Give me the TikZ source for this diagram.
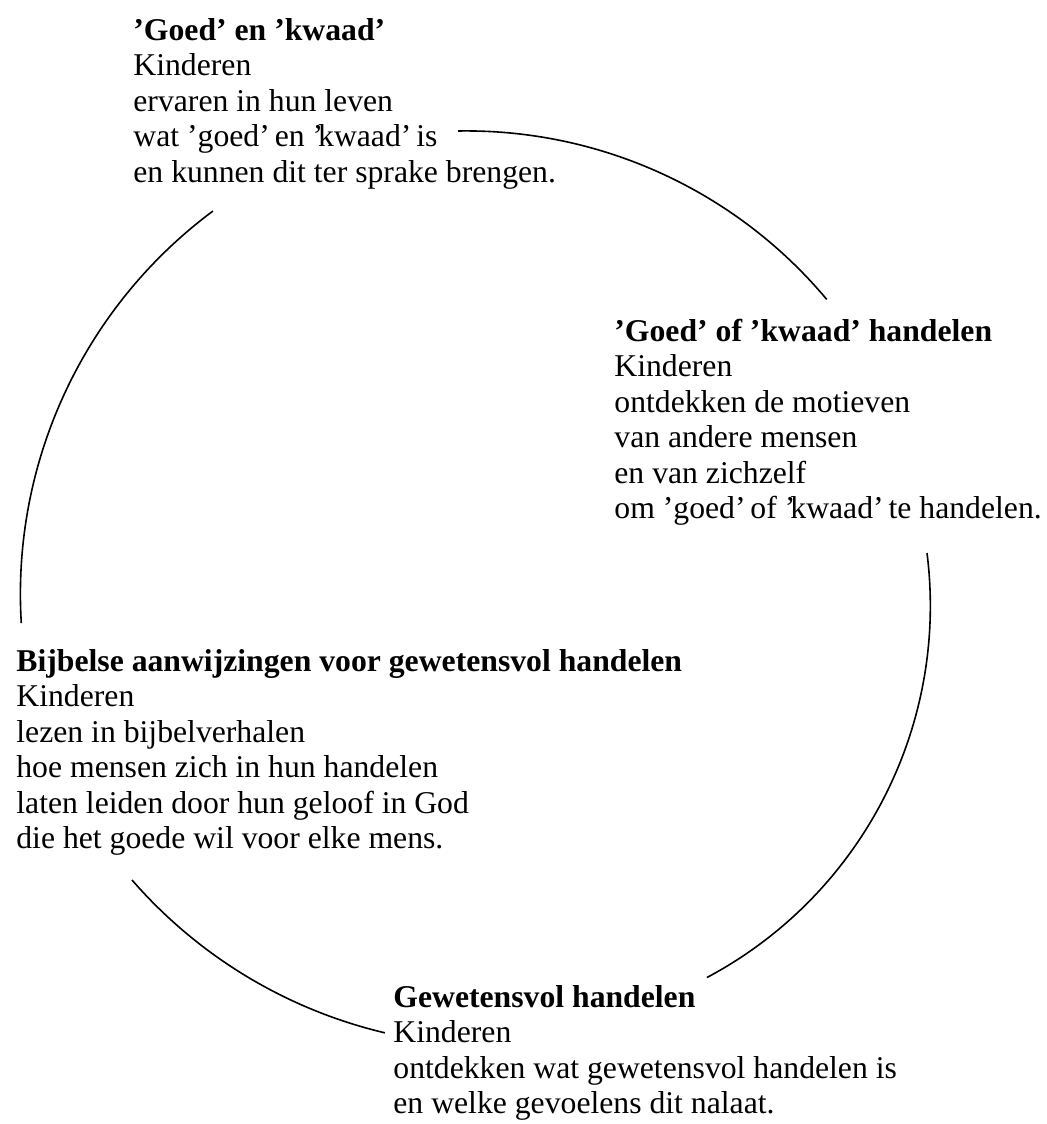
\documentclass[tikz,border=0pt]{standalone}
\usepackage{fontspec}
\setmainfont{Liberation Serif}

\begin{document}
\begin{tikzpicture}[x=0.5pt, y=-0.5pt,
    blok/.style={align=left, anchor=base west, inner sep=0pt,
      font=\fontsize{15.85pt}{17.75pt}\selectfont},
    boog/.style={line width=0.8pt}]
    \useasboundingbox (0,0) rectangle (1047,1124);
    % tekstblokken (anker = basislijn van de laatste regel)
    \node[blok] (goedkwaad) at (133,182) {\textbf{’Goed’ en ’kwaad’}\\
      Kinderen\\ ervaren in hun leven\\
      wat ’goed’\kern-1.5pt\ en ’\kern-2.5pt kwaad’\kern-1.5pt\ is\\
      en kunnen dit ter sprake brengen.};
    \node[blok] (handelen) at (614,518.5) {\textbf{’Goed’ of ’kwaad’ handelen}\\
      Kinderen\\ ontdekken de motieven\\ van andere mensen\\ en van zichzelf\\
      om ’goed’\kern-1.5pt\ of ’\kern-2.5pt kwaad’\kern-1.5pt\ te handelen.};
    \node[blok] (bijbels) at (16,848.5) {\textbf{Bijbelse aanwijzingen voor gewetensvol handelen}\\
      Kinderen\\ lezen in bijbelverhalen\\ hoe mensen zich in hun handelen\\
      laten leiden door hun geloof in God\\ die het goede wil voor elke mens.};
    \node[blok] (geweten) at (393,1113.5) {\textbf{Gewetensvol handelen}\\
      Kinderen\\ ontdekken wat gewetensvol handelen is\\
      en welke gevoelens dit nalaat.};
    % bogen tussen de blokken
    \coordinate (b1) at (213,211);
    \coordinate (b2) at (458,131);
    \coordinate (b3) at (927,553);
    \coordinate (b4) at (132,880);
    \draw[boog] (b1) arc[start angle=233.4, end angle=176.5, radius=477];
    \draw[boog] (b2) arc[start angle=269, end angle=320.1, radius=470];
    \draw[boog] (b3) arc[start angle=-7.2, end angle=62, radius=421];
    \draw[boog] (b4) arc[start angle=139, end angle=103.3, radius=482];
\end{tikzpicture}
\end{document}
